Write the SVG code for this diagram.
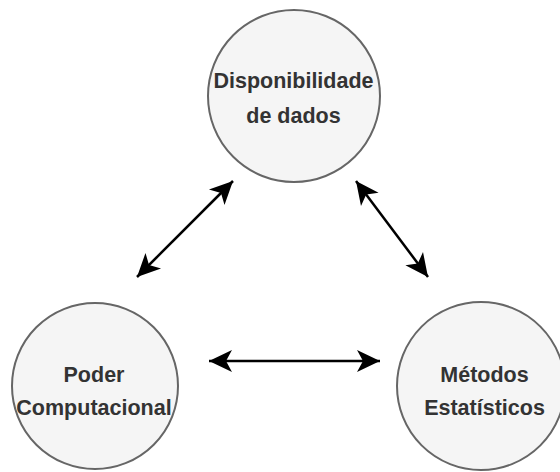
<svg xmlns="http://www.w3.org/2000/svg" width="560" height="472" viewBox="0 0 560 472">
  <style>
    .node circle { fill: #f5f5f5; stroke: #666666; stroke-width: 2; }
    .node text { font-family: "Liberation Sans", Arial, sans-serif; font-weight: bold; font-size: 21.5px; fill: #333333; text-anchor: middle; }
    .edge { stroke: #000000; stroke-width: 2.5; fill: none; marker-start: url(#arrow); marker-end: url(#arrow); }
  </style>
  <defs>
    <marker id="arrow" markerUnits="userSpaceOnUse" viewBox="-24 -12 26 24" refX="0" refY="0" markerWidth="26" markerHeight="24" orient="auto-start-reverse">
      <path d="M0,0 L-23,-11 L-17,0 L-23,11 Z" fill="#000000"/>
    </marker>
  </defs>
  <rect width="560" height="472" fill="#ffffff"/>
  <g id="connectors">
    <line class="edge" x1="137" y1="277" x2="233" y2="181"/>
    <line class="edge" x1="356" y1="181" x2="428" y2="277"/>
    <line class="edge" x1="209" y1="361" x2="380" y2="361"/>
  </g>
  <g id="node-dados" class="node">
    <circle cx="294" cy="96" r="86"/>
    <text x="293.5" y="88">Disponibilidade</text>
    <text x="293.5" y="123">de dados</text>
  </g>
  <g id="node-poder" class="node">
    <circle cx="95" cy="386" r="83"/>
    <text x="94" y="382">Poder</text>
    <text x="94" y="415">Computacional</text>
  </g>
  <g id="node-metodos" class="node">
    <circle cx="481" cy="386" r="84"/>
    <text x="484.5" y="382">Métodos</text>
    <text x="484.5" y="415">Estatísticos</text>
  </g>
</svg>
